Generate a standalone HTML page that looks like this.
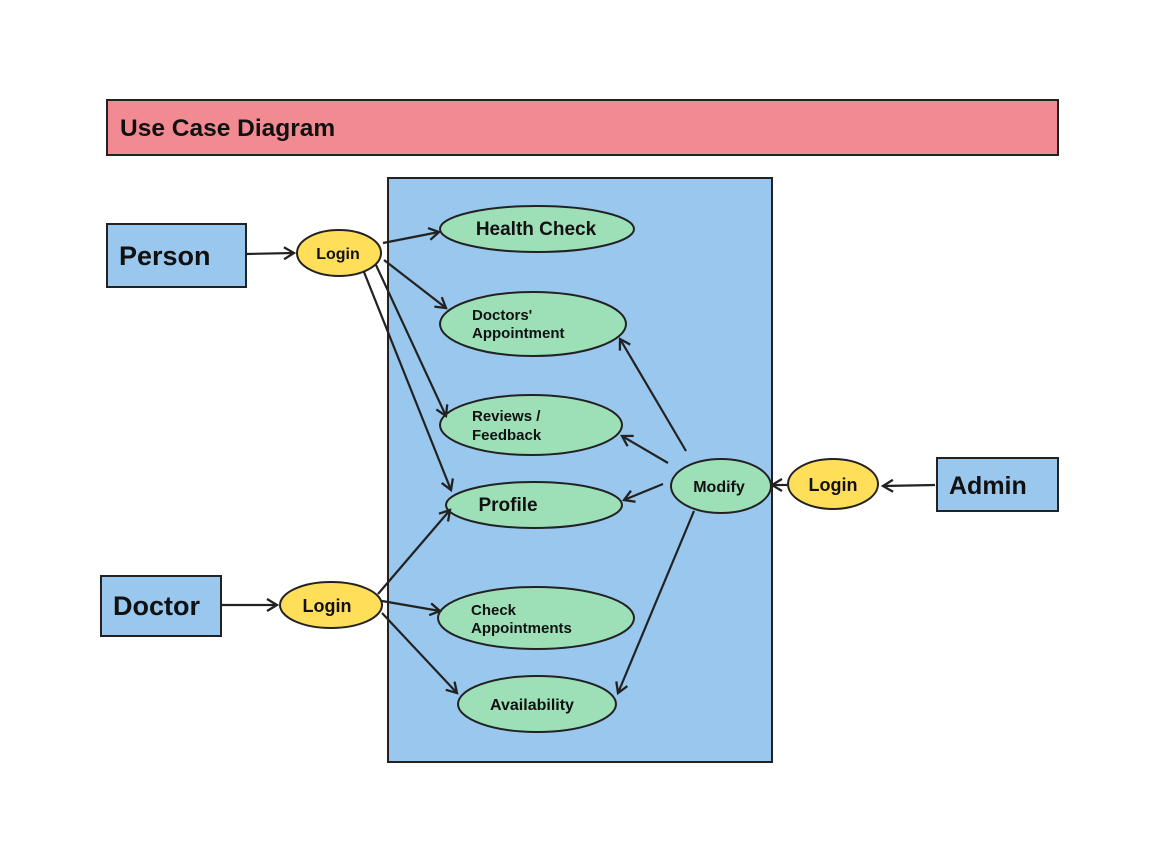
<!DOCTYPE html>
<html><head><style>
html,body{margin:0;padding:0;background:#fff;}
svg{display:block;}
text{font-family:"Liberation Sans",Arial,sans-serif;font-weight:bold;fill:#111;}
</style></head><body>
<svg width="1160" height="863" viewBox="0 0 1160 863" xmlns="http://www.w3.org/2000/svg">
<defs>
<marker id="a" markerWidth="14" markerHeight="14" refX="11" refY="7" orient="auto" markerUnits="userSpaceOnUse">
<path d="M1,1 L11,7 L1,13" fill="none" stroke="#222" stroke-width="2.3"/>
</marker>
</defs>
<rect x="107" y="100" width="951" height="55" fill="#f28b91" stroke="#222" stroke-width="2"/>
<text x="120" y="136" font-size="24.5">Use Case Diagram</text>
<rect x="388" y="178" width="384" height="584" fill="#99c7ee" stroke="#222" stroke-width="2"/>

<g stroke="#222" stroke-width="2" fill="#ffdf5a">
<rect x="107" y="224" width="139" height="63" fill="#99c7ee"/>
<rect x="101" y="576" width="120" height="60" fill="#99c7ee"/>
<rect x="937" y="458" width="121" height="53" fill="#99c7ee"/>
<ellipse cx="339" cy="253" rx="42" ry="23"/>
<ellipse cx="331" cy="605" rx="51" ry="23"/>
<ellipse cx="833" cy="484" rx="45" ry="25"/>
<g fill="#9de0b8">
<ellipse cx="537" cy="229" rx="97" ry="23"/>
<ellipse cx="533" cy="324" rx="93" ry="32"/>
<ellipse cx="531" cy="425" rx="91" ry="30"/>
<ellipse cx="534" cy="505" rx="88" ry="23"/>
<ellipse cx="536" cy="618" rx="98" ry="31"/>
<ellipse cx="537" cy="704" rx="79" ry="28"/>
<ellipse cx="721" cy="486" rx="50" ry="27"/>
</g>
</g>

<g stroke="#222" stroke-width="2.2" fill="none" marker-end="url(#a)">
<line x1="246" y1="254" x2="294" y2="253"/>
<line x1="221" y1="605" x2="277" y2="605"/>
<line x1="935" y1="485" x2="883" y2="486"/>
<line x1="787" y1="485" x2="772" y2="485"/>
<line x1="383" y1="243" x2="439" y2="232"/>
<line x1="384" y1="260" x2="446" y2="308"/>
<line x1="376" y1="265" x2="446" y2="416"/>
<line x1="364" y1="272" x2="451" y2="490"/>
<line x1="378" y1="594" x2="450" y2="510"/>
<line x1="382" y1="601" x2="440" y2="611"/>
<line x1="382" y1="613" x2="457" y2="693"/>
<line x1="686" y1="451" x2="620" y2="339"/>
<line x1="668" y1="463" x2="622" y2="436"/>
<line x1="663" y1="484" x2="624" y2="500"/>
<line x1="694" y1="511" x2="618" y2="693"/>
</g>

<text x="119" y="265" font-size="27">Person</text>
<text x="113" y="615" font-size="27">Doctor</text>
<text x="949" y="494" font-size="25">Admin</text>
<text x="338" y="259" font-size="16" text-anchor="middle">Login</text>
<text x="327" y="612" font-size="18" text-anchor="middle">Login</text>
<text x="833" y="491" font-size="18" text-anchor="middle">Login</text>
<text x="719" y="492" font-size="16" text-anchor="middle">Modify</text>
<text x="536" y="235" font-size="19" text-anchor="middle">Health Check</text>
<text x="472" y="320" font-size="15">Doctors'</text>
<text x="472" y="338" font-size="15">Appointment</text>
<text x="472" y="421" font-size="15">Reviews /</text>
<text x="472" y="440" font-size="15">Feedback</text>
<text x="508" y="511" font-size="19" text-anchor="middle">Profile</text>
<text x="471" y="615" font-size="15">Check</text>
<text x="471" y="633" font-size="15">Appointments</text>
<text x="532" y="710" font-size="16" text-anchor="middle">Availability</text>
</svg>
</body></html>
